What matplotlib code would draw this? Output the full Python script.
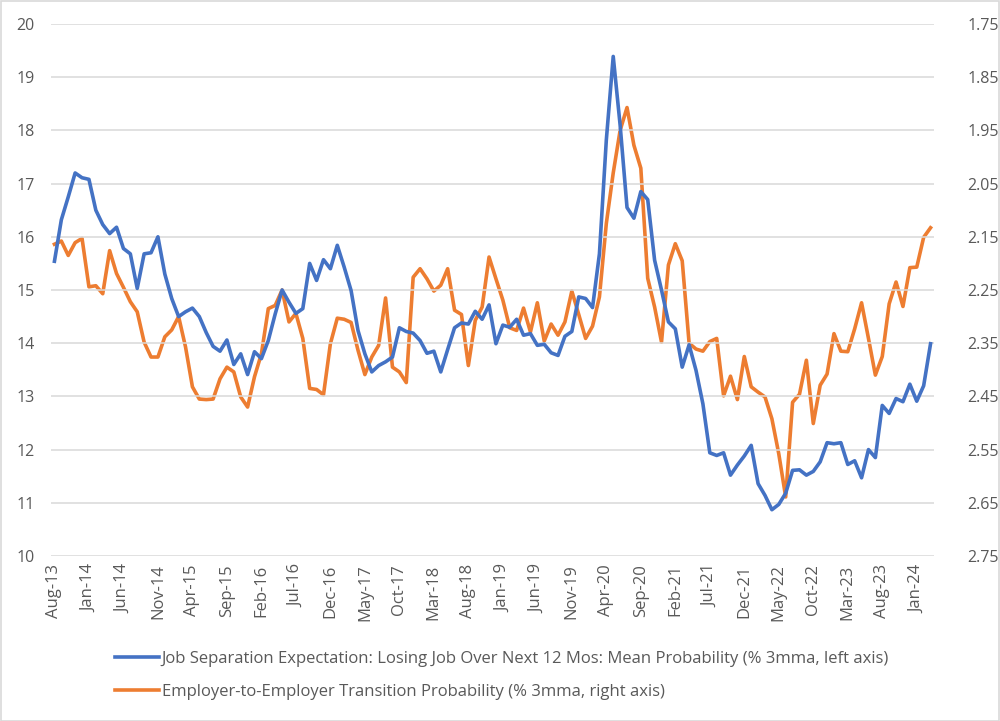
import matplotlib
matplotlib.use("Agg")
import matplotlib.pyplot as plt
import pandas as pd
from matplotlib.patches import Rectangle

# Monthly categories Aug-13 .. Mar-24
months = pd.date_range("2013-08-01", periods=128, freq="MS")
month_labels = [d.strftime("%b-%y") for d in months]

# Job Separation Expectation (left axis, %)
job_sep = [
    15.54, 16.32, 16.75, 17.20, 17.11, 17.08, 16.50, 16.23, 16.06, 16.18,
    15.78, 15.68, 15.03, 15.68, 15.70, 16.00, 15.30, 14.84, 14.50, 14.59,
    14.66, 14.50, 14.20, 13.94, 13.85, 14.06, 13.60, 13.80, 13.41, 13.84,
    13.71, 14.05, 14.55, 15.00, 14.77, 14.56, 14.65, 15.50, 15.18, 15.57,
    15.40, 15.84, 15.43, 14.99, 14.24, 13.80, 13.46, 13.58, 13.65, 13.74,
    14.29, 14.22, 14.19, 14.05, 13.81, 13.85, 13.46, 13.88, 14.29, 14.38,
    14.36, 14.60, 14.45, 14.72, 13.99, 14.34, 14.30, 14.45, 14.15, 14.18,
    13.96, 13.98, 13.82, 13.77, 14.13, 14.22, 14.87, 14.84, 14.67, 15.68,
    17.82, 19.39, 18.10, 16.55, 16.35, 16.85, 16.70, 15.56, 15.00, 14.40,
    14.27, 13.55, 13.97, 13.49, 12.86, 11.94, 11.89, 11.94, 11.52, 11.71,
    11.88, 12.08, 11.36, 11.14, 10.87, 10.97, 11.18, 11.61, 11.62, 11.52,
    11.59, 11.77, 12.13, 12.11, 12.13, 11.72, 11.79, 11.47, 12.00, 11.85,
    12.83, 12.68, 12.96, 12.90, 13.23, 12.91, 13.20, 13.99,
]

# Employer-to-Employer Transition Probability (right axis, %, inverted)
e2e = [
    2.164, 2.158, 2.185, 2.161, 2.153, 2.244, 2.242, 2.257, 2.176, 2.219,
    2.245, 2.272, 2.291, 2.348, 2.376, 2.376, 2.338, 2.325, 2.300, 2.357,
    2.432, 2.455, 2.456, 2.455, 2.417, 2.395, 2.404, 2.451, 2.470, 2.413,
    2.370, 2.285, 2.279, 2.250, 2.310, 2.294, 2.341, 2.435, 2.437, 2.447,
    2.351, 2.303, 2.305, 2.311, 2.363, 2.409, 2.376, 2.354, 2.265, 2.395,
    2.404, 2.424, 2.226, 2.210, 2.229, 2.252, 2.241, 2.210, 2.288, 2.296,
    2.392, 2.307, 2.282, 2.188, 2.229, 2.269, 2.321, 2.326, 2.284, 2.329,
    2.274, 2.346, 2.314, 2.335, 2.310, 2.252, 2.296, 2.341, 2.318, 2.263,
    2.125, 2.030, 1.950, 1.907, 1.978, 2.021, 2.228, 2.282, 2.348, 2.203,
    2.163, 2.195, 2.350, 2.361, 2.365, 2.347, 2.341, 2.449, 2.412, 2.456,
    2.375, 2.432, 2.442, 2.451, 2.492, 2.558, 2.639, 2.461, 2.446, 2.382,
    2.501, 2.429, 2.408, 2.332, 2.365, 2.366, 2.323, 2.274, 2.341, 2.410,
    2.375, 2.276, 2.235, 2.281, 2.208, 2.207, 2.151, 2.133,
]

left_ticks = [10, 11, 12, 13, 14, 15, 16, 17, 18, 19, 20]
right_ticks = [1.75, 1.85, 1.95, 2.05, 2.15, 2.25, 2.35, 2.45, 2.55, 2.65, 2.75]

label_blue = "Job Separation Expectation: Losing Job Over Next 12 Mos: Mean Probability (% 3mma, left axis)"
label_orange = "Employer-to-Employer Transition Probability (% 3mma, right axis)"

BLUE = "#4472C4"
ORANGE = "#ED7D31"
TXT = "#595959"
GRID = "#D9D9D9"

plt.rcParams["font.family"] = ["Open Sans", "DejaVu Sans"]
FS_Y = 11.5
FS_X = 12
FS_LEG = 12

W, H = 1000, 721
fig = plt.figure(figsize=(W / 100, H / 100), dpi=100)
ax = fig.add_axes([51 / W, 1 - 556 / H, (934 - 51) / W, (556 - 24) / H])
ax2 = ax.twinx()

x = list(range(len(months)))
ax.plot(x, job_sep, color=BLUE, lw=2.6, solid_joinstyle="round", zorder=3, label=label_blue)
ax2.plot(x, e2e, color=ORANGE, lw=2.6, solid_joinstyle="round", zorder=3, label=label_orange)

ax.set_xlim(-0.5, len(months) - 0.5)
ax.set_ylim(10, 20)
ax.set_yticks(left_ticks)
ax.set_yticklabels([str(t) for t in left_ticks])
ax2.set_ylim(2.75, 1.75)
ax2.set_yticks(right_ticks)
ax2.set_yticklabels([f"{t:.2f}" for t in right_ticks])

ax.set_xticks(x[::5])
ax.set_xticklabels(month_labels[::5], rotation=90)

ax.grid(axis="y", color=GRID, lw=1.1)
ax.set_axisbelow(True)
for a in (ax, ax2):
    for s in a.spines.values():
        s.set_visible(False)
    a.tick_params(length=0, colors=TXT)
ax.tick_params(axis="y", pad=12, labelsize=FS_Y)
ax2.tick_params(axis="y", pad=24, labelsize=FS_Y)
ax.tick_params(axis="x", pad=6, labelsize=FS_X)

ax.set_zorder(ax2.get_zorder() + 1)
ax.patch.set_visible(False)

h1, l1 = ax.get_legend_handles_labels()
h2, l2 = ax2.get_legend_handles_labels()
leg = fig.legend(h1 + h2, l1 + l2, loc="center", bbox_to_anchor=(0.502, 1 - 675.5 / H),
                 ncol=1, frameon=False, fontsize=FS_LEG, handlelength=2.6,
                 handletextpad=0.18, labelspacing=1.05, labelcolor=TXT)

fig.patches.append(Rectangle((0.5 / W, 0.5 / H), 1 - 1.5 / W, 1 - 1.5 / H,
                             transform=fig.transFigure, fill=False,
                             edgecolor=GRID, lw=1.2))

fig.savefig("out.png", dpi=100, facecolor="white")
